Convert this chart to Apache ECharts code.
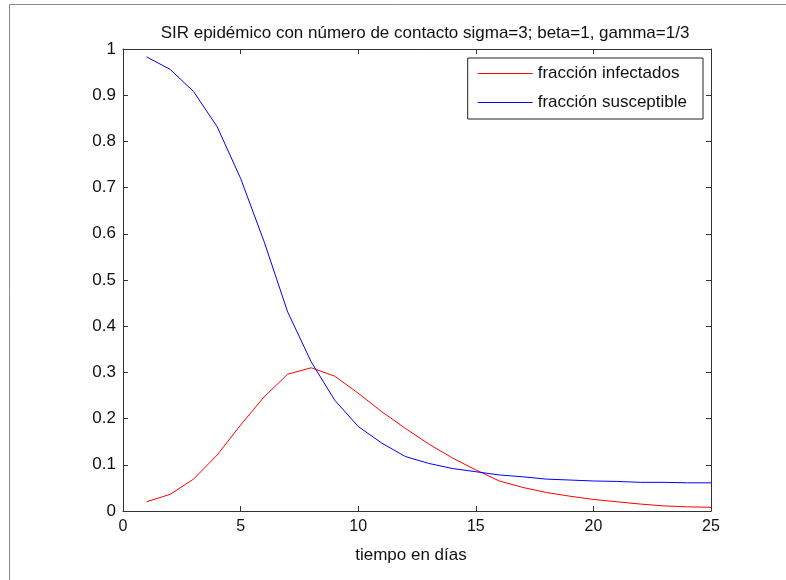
<!DOCTYPE html>
<html>
<head>
<meta charset="utf-8">
<script src="https://cdn.jsdelivr.net/npm/echarts@6/dist/echarts.min.js"></script>
<style>
  html, body { margin: 0; padding: 0; background: #fff; }
  #chart { width: 786px; height: 580px; }
</style>
</head>
<body>
<div id="chart"></div>
<script>
// Days simulated
const days = [1,2,3,4,5,6,7,8,9,10,11,12,13,14,15,16,17,18,19,20,21,22,23,24,25];

// Fraction of infected population per day
const infectados = [0.020,0.036,0.069,0.121,0.186,0.247,0.296,0.310,0.292,0.255,0.215,0.179,0.145,0.115,0.089,0.065,0.051,0.040,0.032,0.025,0.020,0.015,0.011,0.009,0.008];

// Fraction of susceptible population per day
const susceptibles = [0.983,0.956,0.908,0.832,0.720,0.583,0.431,0.323,0.240,0.183,0.147,0.118,0.103,0.092,0.085,0.078,0.074,0.069,0.067,0.065,0.064,0.062,0.062,0.061,0.061];

const xTicks = [0,5,10,15,20,25];
const yTicks = [0,0.1,0.2,0.3,0.4,0.5,0.6,0.7,0.8,0.9,1];

const titleText = 'SIR epidémico con número de contacto sigma=3; beta=1, gamma=1/3';
const xName = 'tiempo en días';
const nameInf = 'fracción infectados';
const nameSus = 'fracción susceptible';

const font = 'Liberation Sans, Arial, Helvetica, sans-serif';
const axisColor = '#333';

const chart = echarts.init(document.getElementById('chart'), null, { renderer: 'canvas' });

const pairs = (vals) => days.map((d, i) => [d, vals[i]]);

const baseX = {
  type: 'value',
  min: xTicks[0],
  max: xTicks[xTicks.length - 1],
  interval: 5,
  axisLine: { show: true, onZero: false, lineStyle: { color: axisColor, width: 1 } },
  axisTick: { show: true, inside: true, length: 5, lineStyle: { color: axisColor } },
  splitLine: { show: false }
};
const baseY = {
  type: 'value',
  min: yTicks[0],
  max: yTicks[yTicks.length - 1],
  interval: 0.1,
  axisLine: { show: true, onZero: false, lineStyle: { color: axisColor, width: 1 } },
  axisTick: { show: true, inside: true, length: 5, lineStyle: { color: axisColor } },
  splitLine: { show: false }
};

chart.setOption({
  backgroundColor: '#fff',
  animation: false,
  title: {
    text: titleText,
    left: 420,
    textAlign: 'center',
    top: 20,
    textStyle: { fontFamily: font, fontSize: 17, fontWeight: 'normal', color: '#111' }
  },
  grid: { left: 123, top: 49, width: 588, height: 462, containLabel: false },
  legend: {
    orient: 'vertical',
    right: 83,
    top: 58,
    data: [nameInf, nameSus],
    backgroundColor: '#fff',
    borderColor: '#222',
    borderWidth: 1,
    borderRadius: 0,
    padding: [7, 16, 8, 10],
    itemWidth: 55,
    itemHeight: 14,
    itemGap: 12,
    icon: 'path://M0,7 L55,7 L55,8 L0,8 Z',
    textStyle: { fontFamily: font, fontSize: 17, color: '#111', padding: [0, 0, 0, 0] },
    selectedMode: false
  },
  xAxis: [
    Object.assign({}, baseX, {
      position: 'bottom',
      name: xName,
      nameLocation: 'middle',
      nameGap: 36,
      nameTextStyle: { fontFamily: font, fontSize: 17, color: '#111', padding: [0, 12, 0, 0] },
      axisLabel: { show: true, margin: 8, fontFamily: font, fontSize: 16, color: '#111' }
    }),
    Object.assign({}, baseX, { position: 'top', axisLabel: { show: false } })
  ],
  yAxis: [
    Object.assign({}, baseY, {
      position: 'left',
      axisLabel: {
        show: true, margin: 7, fontFamily: font, fontSize: 17, color: '#111',
        formatter: (v) => String(Math.round(v * 10) / 10)
      }
    }),
    Object.assign({}, baseY, { position: 'right', axisLabel: { show: false } })
  ],
  series: [
    {
      name: nameInf,
      type: 'line',
      data: pairs(infectados),
      showSymbol: false,
      symbol: 'none',
      color: '#ff0000',
      lineStyle: { color: '#ff0000', width: 1 },
      z: 3
    },
    {
      name: nameSus,
      type: 'line',
      data: pairs(susceptibles),
      showSymbol: false,
      symbol: 'none',
      color: '#0000ff',
      lineStyle: { color: '#0000ff', width: 1 },
      z: 3
    }
  ],
  graphic: [
    {
      type: 'polyline',
      shape: { points: [[9.5, 580], [9.5, 4.5], [786, 4.5]] },
      style: { stroke: '#8a8a8a', lineWidth: 1, fill: null },
      silent: true
    }
  ]
});
</script>
</body>
</html>
